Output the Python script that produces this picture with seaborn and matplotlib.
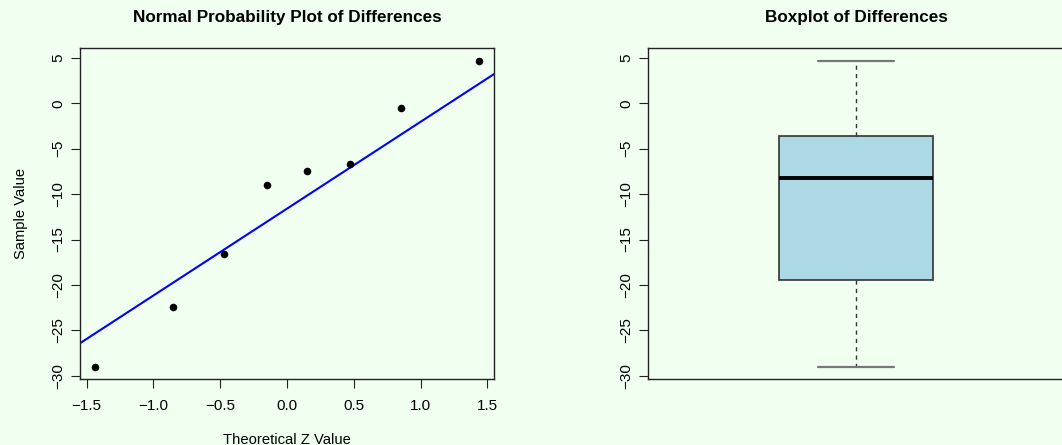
import numpy as np
import pandas as pd
import matplotlib
matplotlib.use("Agg")
import matplotlib.pyplot as plt
import seaborn as sns
from statistics import NormalDist

# ---- data ----
differences = [-29.0, -22.4, -16.6, -9.0, -7.5, -6.7, -0.5, 4.7]
x_ticks = [-1.5, -1.0, -0.5, 0.0, 0.5, 1.0, 1.5]
y_ticks = [-30, -25, -20, -15, -10, -5, 0, 5]
title_left = "Normal Probability Plot of Differences"
title_right = "Boxplot of Differences"
xlabel_left = "Theoretical Z Value"
ylabel_left = "Sample Value"

BG = "#F0FFF0"

sns.set_theme(style="white")
plt.rcParams["font.family"] = ["Liberation Sans", "DejaVu Sans"]
plt.rcParams["text.color"] = "black"
plt.rcParams["axes.labelcolor"] = "black"
plt.rcParams["xtick.color"] = "black"
plt.rcParams["ytick.color"] = "black"

# R-style theoretical quantiles (ppoints with a=3/8 for n<=10)
vals = np.sort(np.array(differences))
n = len(vals)
a = 3 / 8 if n <= 10 else 0.5
probs = (np.arange(1, n + 1) - a) / (n + 1 - 2 * a)
nd = NormalDist()
z = np.array([nd.inv_cdf(p) for p in probs])
df = pd.DataFrame({"z": z, "value": vals})

# qqline: through first and third quartiles
q1, q3 = np.quantile(vals, [0.25, 0.75])
zq1, zq3 = nd.inv_cdf(0.25), nd.inv_cdf(0.75)
slope = (q3 - q1) / (zq3 - zq1)
intercept = q1 - slope * zq1

# Tukey five-number summary (R boxplot hinges)
def fivenum(x):
    x = np.sort(x)
    m = len(x)
    n4 = np.floor((m + 3) / 2) / 2
    d = np.array([1, n4, (m + 1) / 2, m + 1 - n4, m]) - 1
    return 0.5 * (x[np.floor(d).astype(int)] + x[np.ceil(d).astype(int)])

fn = fivenum(vals)

W, H = 1062, 445
fig = plt.figure(figsize=(W / 100, H / 100), dpi=100, facecolor=BG)

def rect(l, t, r, b):
    return [l / W, 1 - b / H, (r - l) / W, (b - t) / H]

ax1 = fig.add_axes(rect(80, 48.3, 494, 379))
ax2 = fig.add_axes(rect(648, 48.3, 1064, 379))

rng = vals.max() - vals.min()
ylim = (vals.min() - 0.04 * rng, vals.max() + 0.04 * rng)
zr = z.max() - z.min()
xlim = (z.min() - 0.04 * zr, z.max() + 0.04 * zr)

FS = 11
for ax in (ax1, ax2):
    ax.set_facecolor(BG)
    for s in ax.spines.values():
        s.set_color("#222222")
        s.set_linewidth(1.0)
    ax.set_ylim(*ylim)
    ax.set_yticks(y_ticks)
    ax.set_yticklabels([str(t).replace("-", "\u2212") for t in y_ticks],
                       rotation=90, va="center", fontsize=FS)
    ax.tick_params(axis="y", direction="out", length=6.5, width=0.8,
                   color="#222222", pad=4, left=True)

# ---- left: normal probability plot ----
sns.scatterplot(data=df, x="z", y="value", ax=ax1, color="black",
                s=30, edgecolor="black", linewidth=0, zorder=3)
xl = np.array(xlim)
ax1.plot(xl, intercept + slope * xl, color="#0000FF", lw=1.5, zorder=2)
ax1.set_xlim(*xlim)
ax1.set_xticks(x_ticks)
ax1.set_xticklabels([f"{t:.1f}".replace("-", "\u2212") for t in x_ticks], fontsize=FS)
ax1.tick_params(axis="x", direction="out", length=6.5, width=0.8,
                color="#222222", pad=8, bottom=True)
ax1.set_xlabel(xlabel_left, fontsize=10.6, labelpad=14)
ax1.set_ylabel(ylabel_left, fontsize=10.6, labelpad=17)
ax1.set_title(title_left, fontsize=12.3, fontweight="bold", pad=19)

# ---- right: boxplot ----
stats = [{"med": fn[2], "q1": fn[1], "q3": fn[3],
          "whislo": fn[0], "whishi": fn[4], "fliers": [], "label": ""}]
ax2.bxp(stats, positions=[1], widths=0.37, patch_artist=True,
        boxprops=dict(facecolor="#ADD8E6", edgecolor="#333333", linewidth=1.2),
        medianprops=dict(color="black", linewidth=2.8),
        whiskerprops=dict(color="#333333", linestyle=(0, (3, 3)), linewidth=1.0),
        capprops=dict(color="#777777", linewidth=1.6),
        capwidths=0.185, showfliers=False)
ax2.set_xlim(0.5, 1.5)
ax2.set_xticks([])
ax2.set_title(title_right, fontsize=12.3, fontweight="bold", pad=19)

fig.savefig("out.png", dpi=100, facecolor=BG)
